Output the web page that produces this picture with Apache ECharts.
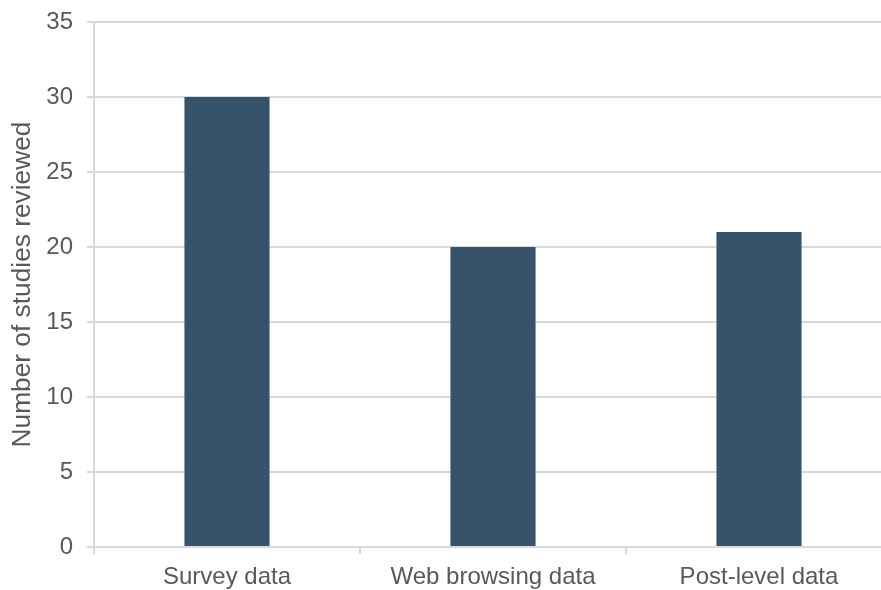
<!DOCTYPE html>
<html>
<head>
<meta charset="utf-8">
<script src="https://cdn.jsdelivr.net/npm/echarts@6/dist/echarts.min.js"></script>
<style>
html,body{margin:0;padding:0;background:#fff;}
#c{width:881px;height:590px;}
</style>
</head>
<body>
<div id="c"></div>
<script>
const categories = ["Survey data", "Web browsing data", "Post-level data"];
const studyCounts = [30, 20, 21];
const yTicks = { min: 0, max: 35, interval: 5 };

const FONT = 'Liberation Sans, Arial, sans-serif';
const chart = echarts.init(document.getElementById('c'), null, { renderer: 'canvas' });
chart.setOption({
  animation: false,
  backgroundColor: '#ffffff',
  grid: { left: 94, right: -11, top: 22, bottom: 43, containLabel: false, outerBoundsMode: 'none' },
  xAxis: {
    type: 'category',
    data: categories,
    axisLine: { show: true, lineStyle: { color: '#d9d9d9', width: 2 } },
    axisTick: { show: true, alignWithLabel: false, length: 7, lineStyle: { color: '#d9d9d9', width: 2 } },
    axisLabel: { color: '#595959', fontSize: 24, fontFamily: FONT, margin: 18, interval: 0, hideOverlap: false },
    z: 10
  },
  yAxis: {
    type: 'value',
    min: yTicks.min, max: yTicks.max, interval: yTicks.interval,
    name: 'Number of studies reviewed',
    nameLocation: 'middle',
    nameGap: 54,
    nameRotate: 90,
    nameTextStyle: { color: '#595959', fontSize: 26.3, fontFamily: FONT },
    axisLine: { show: true, lineStyle: { color: '#d9d9d9', width: 2 } },
    axisTick: { show: true, length: 7, lineStyle: { color: '#d9d9d9', width: 2 } },
    axisLabel: { color: '#595959', fontSize: 24, fontFamily: FONT, margin: 21 },
    splitLine: { show: true, lineStyle: { color: '#d9d9d9', width: 2 } }
  },
  series: [{
    type: 'bar',
    data: studyCounts,
    barWidth: '32%',
    itemStyle: { color: '#36536b' },
    z: 2
  }]
});
</script>
</body>
</html>
